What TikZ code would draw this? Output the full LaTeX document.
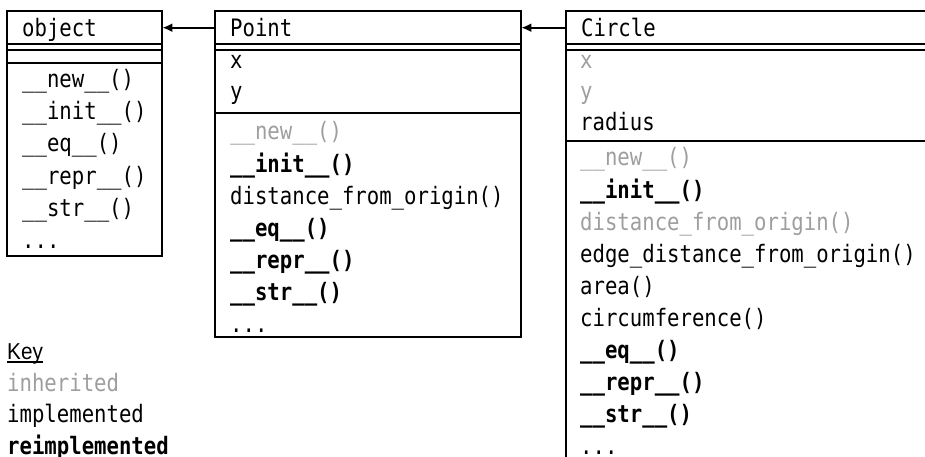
\documentclass[tikz,border=0pt]{standalone}
\usepackage{fontspec}
\usetikzlibrary{arrows.meta, positioning}
\newfontfamily\memberfont{DejaVu Sans Mono}[FakeStretch=0.86]
\newfontfamily\keyfont{Liberation Sans}[FakeStretch=0.9]
\definecolor{inheritgray}{RGB}{158,158,158}

\begin{document}
\begin{tikzpicture}[x=1pt,y=-1pt]

\tikzset{frame/.style = {draw, line width=1.8pt}}
\tikzset{classname/.style = {anchor=north west, minimum height=33pt, inner xsep=15pt, inner ysep=0pt, align=left, text height=19pt, text depth=2pt, font=\memberfont\fontsize{24}{28}\selectfont}}
\tikzset{member/.style = {anchor=base west, inner sep=0pt, font=\memberfont\fontsize{24}{28}\selectfont}}
\tikzset{inherited/.style = {member, text=inheritgray}}
\tikzset{reimpl/.style = {member, font=\memberfont\fontsize{24}{28}\selectfont\bfseries}}
\tikzset{edge/.style = {-{Latex[length=10pt,width=9pt]}, line width=1.8pt}}

\useasboundingbox (0,0) rectangle (925,457);

% object
\draw[frame] (7,11) rectangle (162,256);
\draw[frame] (7,44) -- (162,44);
\draw[frame] (7,50) -- (162,50);
\draw[frame] (7,63) -- (162,63);
\node[classname, minimum width=155pt, text width=125pt] (object) at (7,11) {object};
\node[member] (objnew) at (22,88) {\_\_new\_\_()};
\node[member] (objinit) at (22,120) {\_\_init\_\_()};
\node[member] (objeq) at (22,152) {\_\_eq\_\_()};
\node[member] (objrepr) at (22,184) {\_\_repr\_\_()};
\node[member] (objstr) at (22,216) {\_\_str\_\_()};
\node[member] (objmore) at (22,248) {...};

% Point
\draw[frame] (215,11) rectangle (521,337);
\draw[frame] (215,44) -- (521,44);
\draw[frame] (215,50) -- (521,50);
\draw[frame] (215,113) -- (521,113);
\node[classname, minimum width=306pt, text width=276pt] (point) at (215,11) {Point};
\node[member] (ptx) at (230,69) {x};
\node[member] (pty) at (230,100) {y};
\node[inherited] (ptnew) at (230,140) {\_\_new\_\_()};
\node[reimpl] (ptinit) at (230,172) {\_\_init\_\_()};
\node[member] (ptdist) at (230,204) {distance\_from\_origin()};
\node[reimpl] (pteq) at (230,236) {\_\_eq\_\_()};
\node[reimpl] (ptrepr) at (230,268) {\_\_repr\_\_()};
\node[reimpl] (ptstr) at (230,300) {\_\_str\_\_()};
\node[member] (ptmore) at (230,332) {...};

% Circle
\draw[frame] (566,11) rectangle (935,470);
\draw[frame] (566,44) -- (935,44);
\draw[frame] (566,50) -- (935,50);
\draw[frame] (566,141) -- (935,141);
\node[classname, minimum width=369pt, text width=339pt] (circle) at (566,11) {Circle};
\node[inherited] (cix) at (580,69) {x};
\node[inherited] (ciy) at (580,100) {y};
\node[member] (cirad) at (580,131) {radius};
\node[inherited] (cinew) at (580,166) {\_\_new\_\_()};
\node[reimpl] (ciinit) at (580,198) {\_\_init\_\_()};
\node[inherited] (cidist) at (580,230) {distance\_from\_origin()};
\node[member] (ciedge) at (580,262) {edge\_distance\_from\_origin()};
\node[member] (ciarea) at (580,294) {area()};
\node[member] (cicirc) at (580,326) {circumference()};
\node[reimpl] (cieq) at (580,358) {\_\_eq\_\_()};
\node[reimpl] (cirepr) at (580,390) {\_\_repr\_\_()};
\node[reimpl] (cistr) at (580,422) {\_\_str\_\_()};
\node[member] (cimore) at (580,454) {...};

% key
\node[anchor=base west, inner sep=0pt, font=\keyfont\fontsize{23}{26}\selectfont] (key) at (7,359) {Key};
\draw[line width=1.6pt] ([yshift=-3pt]key.base west) -- ([yshift=-3pt]key.base east);
\node[inherited] (keyinh) at (7,391) {inherited};
\node[member] (keyimp) at (7,422) {implemented};
\node[reimpl] (keyre) at (7,454) {reimplemented};

%edges
\draw[edge] (point.west) -- (object.east);
\draw[edge] (circle.west) -- (point.east);
\end{tikzpicture}
\end{document}
